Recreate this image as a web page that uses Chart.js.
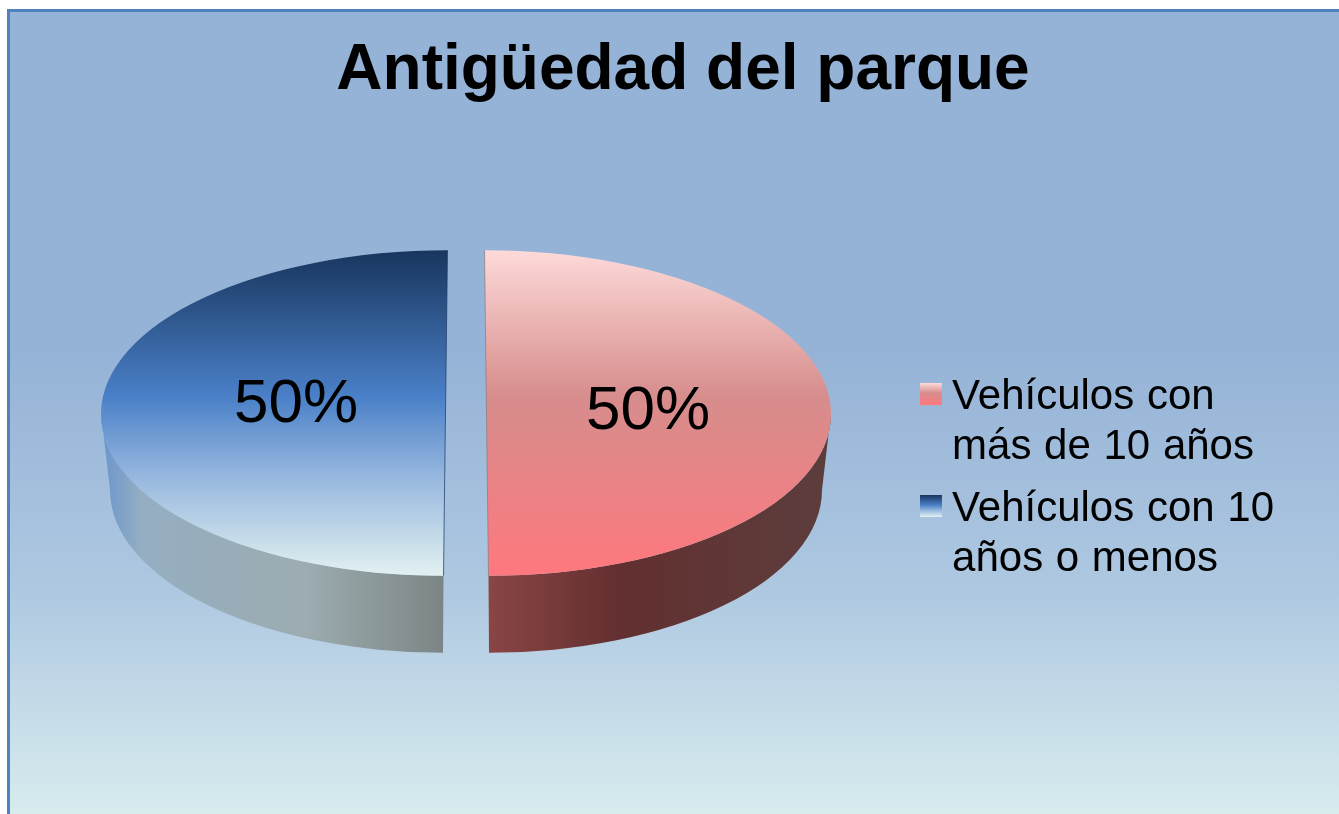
<!DOCTYPE html>
<html lang="es">
<head>
<meta charset="utf-8">
<title>Antigüedad del parque</title>
<script src="https://cdn.jsdelivr.net/npm/chart.js@4"></script>
<style>
  html, body { margin: 0; padding: 0; background: #fff; overflow: hidden; }
  canvas { display: block; }
</style>
</head>
<body>
<canvas id="chart" width="1339" height="814"></canvas>
<script>
const titleText = 'Antigüedad del parque';
const categories = [
  ['Vehículos con', 'más de 10 años'],
  ['Vehículos con 10', 'años o menos']
];
const shares = [50, 50];

const FONT = '"Liberation Sans", Arial, sans-serif';
const faceColors = [
  [[0, '#fddad9'], [0.45, '#d68d8c'], [1, '#ff787e']],
  [[0, '#18355d'], [0.45, '#4a80c8'], [0.68, '#92b4dd'], [1, '#e2f1f1']]
];
const sideColors = [
  [[0, '#8a4545'], [0.38, '#632f30'], [1, '#5c3e3d']],
  [[0, '#6a95cc'], [0.12, '#95aec2'], [0.6, '#9cacb0'], [1, '#7c8585']]
];
const edgeColors = ['#8f7a7a', '#1c3a63'];

// el pastel se dibuja aplastado y con grosor
const RADIUS = 324, OFFSET = 82, FACE_CX = 466, FACE_CY = 413;
const FLATTEN = 163 / 345, DEPTH = 77, BOTTOM_RX = 333, SKEW = 4 / 690;

function addStops(grad, stops) {
  stops.forEach(function (s) { grad.addColorStop(s[0], s[1]); });
  return grad;
}

function faceFill(context) {
  const area = context.chart.chartArea;
  if (!area) return '#888';
  const cy = (area.top + area.bottom) / 2, r = RADIUS + OFFSET / 4;
  return addStops(context.chart.ctx.createLinearGradient(0, cy - r, 0, cy + r), faceColors[context.dataIndex]);
}

function legendSwatch(i) {
  const c = document.createElement('canvas');
  c.width = 22; c.height = 28;
  const g = c.getContext('2d');
  g.fillStyle = addStops(g.createLinearGradient(0, 0, 0, 22), faceColors[i]);
  g.fillRect(0, 0, 22, 22);
  return c;
}

function applyFace(ctx, arc, dir) {
  ctx.transform(1, 0, dir * SKEW, FLATTEN, FACE_CX - arc.x - dir * SKEW * arc.y, FACE_CY - FLATTEN * arc.y);
}

const backdrop = {
  id: 'backdrop',
  beforeDraw: function (chart) {
    const ctx = chart.ctx;
    ctx.save();
    ctx.fillStyle = '#4f81bd';
    ctx.fillRect(7, 9, 1332, 805);
    ctx.fillStyle = addStops(ctx.createLinearGradient(0, 12, 0, 814), [[0, '#95b3d7'], [0.42, '#95b3d7'], [0.72, '#aec8e1'], [1, '#d8ecee']]);
    ctx.fillRect(10, 12, 1329, 802);
    ctx.restore();
    // separacion de palabras solo en la leyenda
    if (!chart.legend._spaced) {
      const drawLegend = chart.legend.draw;
      chart.legend.draw = function () {
        ctx.wordSpacing = '1px';
        drawLegend.call(this);
        ctx.wordSpacing = '0px';
      };
      chart.legend._spaced = true;
    }
  }
};

const pie3d = {
  id: 'pie3d',
  beforeDatasetsDraw: function (chart) {
    const ctx = chart.ctx;
    chart.getDatasetMeta(0).data.forEach(function (arc, i) {
      const dir = i === 0 ? 1 : -1;
      const shift = arc.options.offset / 4;
      const r = arc.outerRadius + shift;
      const cx = arc.x + dir * shift;
      const botCx = FACE_CX + dir * (shift + 2.5);
      const sx0 = i === 0 ? botCx : FACE_CX - r - shift;
      const sx1 = i === 0 ? FACE_CX + r + shift : botCx;

      // costado
      ctx.save();
      ctx.beginPath();
      ctx.save();
      applyFace(ctx, arc, dir);
      if (i === 0) ctx.arc(cx, arc.y, r, 0, Math.PI / 2);
      else ctx.arc(cx, arc.y, r, Math.PI / 2, Math.PI);
      ctx.restore();
      if (i === 0) ctx.ellipse(botCx, FACE_CY + DEPTH, BOTTOM_RX, r * FLATTEN, 0, Math.PI / 2, 0, true);
      else ctx.ellipse(botCx, FACE_CY + DEPTH, BOTTOM_RX, r * FLATTEN, 0, Math.PI, Math.PI / 2, true);
      ctx.closePath();
      ctx.fillStyle = addStops(ctx.createLinearGradient(sx0, 0, sx1, 0), sideColors[i]);
      ctx.fill();
      ctx.restore();

      // cara superior
      ctx.save();
      applyFace(ctx, arc, dir);
      ctx.beginPath();
      ctx.arc(cx, arc.y, r, arc.startAngle, arc.endAngle);
      ctx.closePath();
      ctx.fillStyle = arc.options.backgroundColor;
      ctx.fill();
      ctx.beginPath();
      ctx.moveTo(cx, arc.y - r);
      ctx.lineTo(cx, arc.y + r);
      ctx.lineWidth = 1;
      ctx.strokeStyle = edgeColors[i];
      ctx.stroke();
      ctx.restore();
    });
    return false;
  },
  afterDraw: function (chart) {
    const ctx = chart.ctx;
    const total = shares.reduce(function (a, b) { return a + b; }, 0);
    ctx.save();
    ctx.font = '62px ' + FONT;
    ctx.fillStyle = '#000';
    ctx.textAlign = 'center';
    ctx.textBaseline = 'middle';
    chart.getDatasetMeta(0).data.forEach(function (arc, i) {
      const x = i === 0 ? FACE_CX + 182 : FACE_CX - 170;
      const y = i === 0 ? FACE_CY - 1 : FACE_CY - 8;
      ctx.fillText(Math.round(shares[i] / total * 100) + '%', x, y);
    });
    ctx.restore();
  }
};

new Chart(document.getElementById('chart'), {
  type: 'pie',
  data: {
    labels: categories,
    datasets: [{
      data: shares,
      backgroundColor: faceFill,
      borderWidth: 0,
      offset: OFFSET,
      hoverOffset: 0
    }]
  },
  options: {
    responsive: false,
    animation: false,
    radius: RADIUS,
    layout: { padding: { left: 84, right: 57, top: 0, bottom: 214 } },
    plugins: {
      tooltip: { enabled: false },
      title: {
        display: true,
        text: titleText,
        color: '#000',
        font: { family: FONT, size: 64, weight: 'bold', lineHeight: 1.2 },
        padding: { top: 33, bottom: 30 }
      },
      legend: {
        position: 'right',
        align: 'end',
        labels: {
          color: '#000',
          font: { family: FONT, size: 42, lineHeight: 1.19 },
          padding: 12,
          boxWidth: 1,
          usePointStyle: true,
          generateLabels: function () {
            return categories.map(function (c, i) {
              return { text: c, pointStyle: legendSwatch(i), fontColor: '#000', datasetIndex: 0, index: i };
            });
          }
        }
      }
    }
  },
  plugins: [backdrop, pie3d]
});
</script>
</body>
</html>
